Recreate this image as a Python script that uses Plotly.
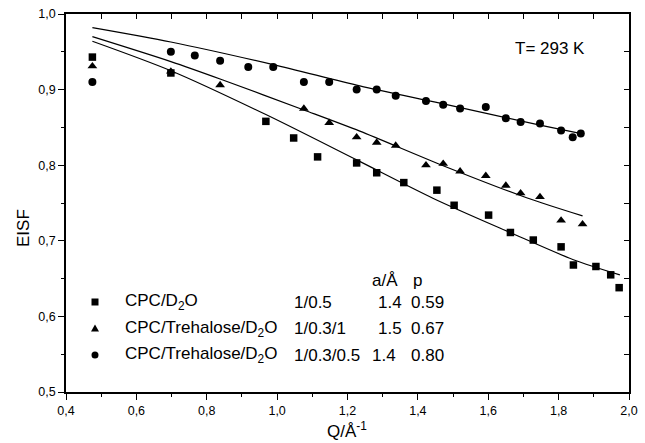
import plotly.graph_objects as go

# Measured EISF values
q_cpc = [0.475, 0.698, 0.968, 1.047, 1.115, 1.226, 1.283, 1.360, 1.454, 1.503,
         1.601, 1.663, 1.728, 1.807, 1.842, 1.906, 1.948, 1.972]
eisf_cpc = [0.943, 0.922, 0.858, 0.836, 0.811, 0.803, 0.790, 0.777, 0.767, 0.747,
            0.734, 0.711, 0.701, 0.692, 0.668, 0.666, 0.655, 0.638]

q_tre1 = [0.475, 0.698, 0.838, 1.076, 1.148, 1.226, 1.283, 1.337, 1.423, 1.472,
          1.520, 1.593, 1.650, 1.692, 1.747, 1.807, 1.868]
eisf_tre1 = [0.931, 0.924, 0.906, 0.875, 0.856, 0.837, 0.830, 0.826, 0.800, 0.802,
             0.792, 0.786, 0.773, 0.763, 0.758, 0.727, 0.722]

q_tre05 = [0.475, 0.698, 0.766, 0.838, 0.918, 0.989, 1.076, 1.148, 1.226, 1.283,
           1.337, 1.423, 1.472, 1.520, 1.593, 1.650, 1.692, 1.747, 1.807, 1.840, 1.863]
eisf_tre05 = [0.910, 0.950, 0.945, 0.938, 0.930, 0.930, 0.910, 0.910, 0.900, 0.900,
              0.892, 0.885, 0.880, 0.875, 0.877, 0.862, 0.857, 0.855, 0.846, 0.837, 0.842]

# Model fit curves
fit_q_cpc = [0.475, 0.698, 0.968, 1.226, 1.444, 1.662, 1.842, 1.974]
fit_cpc = [0.964, 0.925, 0.867, 0.807, 0.756, 0.711, 0.675, 0.655]

fit_q_tre1 = [0.475, 0.698, 0.838, 1.076, 1.235, 1.463, 1.709, 1.868]
fit_tre1 = [0.970, 0.937, 0.914, 0.873, 0.845, 0.801, 0.757, 0.733]

fit_q_tre05 = [0.475, 0.698, 0.989, 1.235, 1.463, 1.747, 1.861]
fit_tre05 = [0.982, 0.963, 0.933, 0.905, 0.882, 0.853, 0.842]

# Legend table
legend_names = ["CPC/D<sub>2</sub>O", "CPC/Trehalose/D<sub>2</sub>O", "CPC/Trehalose/D<sub>2</sub>O"]
legend_ratio = ["1/0.5", "1/0.3/1", "1/0.3/0.5"]
legend_a = ["1.4", "1.5", "1.4"]
legend_p = ["0.59", "0.67", "0.80"]

W, H = 645, 443
ML, MR, MT, MB = 66, 16, 14, 51
PW, PH = W - ML - MR, H - MT - MB


def px(x):
    return (x - ML) / PW


def py(y):
    return (H - MB - y) / PH


FONT = "Liberation Sans, Arial, sans-serif"
fig = go.Figure()

for q, e in [(fit_q_cpc, fit_cpc), (fit_q_tre1, fit_tre1), (fit_q_tre05, fit_tre05)]:
    fig.add_trace(go.Scatter(x=q, y=e, mode="lines",
                             line=dict(color="black", width=1.2, shape="spline", smoothing=0.8),
                             hoverinfo="skip"))

fig.add_trace(go.Scatter(x=q_cpc, y=eisf_cpc, mode="markers",
                         marker=dict(symbol="square", size=7.5, color="black")))
fig.add_trace(go.Scatter(x=q_tre1, y=eisf_tre1, mode="markers",
                         marker=dict(symbol="triangle-up", size=8.5, color="black")))
fig.add_trace(go.Scatter(x=q_tre05, y=eisf_tre05, mode="markers",
                         marker=dict(symbol="circle", size=8, color="black")))
# placeholder trace so the mirrored frame axes are drawn
fig.add_trace(go.Scatter(x=[], y=[], xaxis="x2", yaxis="y2"))

ann = []
ann.append(dict(text="T= 293 K", x=px(513), y=py(49), xanchor="left", yanchor="middle",
                font=dict(size=17)))
ann.append(dict(text="a/Å", x=px(370), y=py(280), xanchor="left", yanchor="middle",
                font=dict(size=17)))
ann.append(dict(text="p", x=px(411), y=py(280), xanchor="left", yanchor="middle",
                font=dict(size=17)))
row_y = [302, 328.5, 355]
a_x = [376, 376, 370]
for i in range(3):
    ann.append(dict(text=legend_names[i], x=px(123), y=py(row_y[i]), xanchor="left",
                    yanchor="middle", font=dict(size=17)))
    ann.append(dict(text=legend_ratio[i], x=px(292), y=py(row_y[i]), xanchor="left",
                    yanchor="middle", font=dict(size=17)))
    ann.append(dict(text=legend_a[i], x=px(a_x[i]), y=py(row_y[i]), xanchor="left",
                    yanchor="middle", font=dict(size=17)))
    ann.append(dict(text=legend_p[i], x=px(409), y=py(row_y[i]), xanchor="left",
                    yanchor="middle", font=dict(size=17)))
ann.append(dict(text="EISF", x=px(23), y=py(228), textangle=-90, xanchor="center",
                yanchor="middle", font=dict(size=17)))
ann.append(dict(text="Q/Å<sup>-1</sup>", x=px(347), y=py(430), xanchor="center",
                yanchor="middle", font=dict(size=17)))
for a in ann:
    a.update(xref="paper", yref="paper", showarrow=False)

# Legend keys
mx = px(95)
shapes = [
    dict(type="rect", xref="paper", yref="paper", xsizemode="pixel", ysizemode="pixel",
         xanchor=mx, yanchor=py(row_y[0]), x0=-3.5, x1=3.5, y0=-3.5, y1=3.5,
         fillcolor="black", line=dict(width=0)),
    dict(type="path", xref="paper", yref="paper", xsizemode="pixel", ysizemode="pixel",
         xanchor=mx, yanchor=py(row_y[1]), path="M -4,-3 L 4,-3 L 0,4 Z",
         fillcolor="black", line=dict(width=0)),
    dict(type="circle", xref="paper", yref="paper", xsizemode="pixel", ysizemode="pixel",
         xanchor=mx, yanchor=py(row_y[2]), x0=-3.5, x1=3.5, y0=-3.5, y1=3.5,
         fillcolor="black", line=dict(width=0)),
]

axis_common = dict(showgrid=False, zeroline=False, showline=True, linecolor="black",
                   linewidth=1.5, tickcolor="black", tickwidth=1)

fig.update_layout(
    width=W, height=H,
    margin=dict(l=ML, r=MR, t=MT, b=MB, autoexpand=False),
    paper_bgcolor="white", plot_bgcolor="white",
    separators=",.",
    showlegend=False,
    font=dict(family=FONT, color="black", size=12.5),
    annotations=ann,
    shapes=shapes,
    xaxis=dict(range=[0.4, 2.0], tickmode="linear", tick0=0.4, dtick=0.2, tickformat=".1f",
               ticks="outside", ticklen=6,
               minor=dict(ticks="outside", ticklen=3, dtick=0.1, tick0=0.4, tickcolor="black"),
               **axis_common),
    yaxis=dict(range=[0.5, 1.0], tickmode="linear", tick0=0.5, dtick=0.1, tickformat=".1f",
               ticks="outside", ticklen=6,
               minor=dict(ticks="outside", ticklen=3, dtick=0.05, tick0=0.5, tickcolor="black"),
               **axis_common),
    xaxis2=dict(range=[0.4, 2.0], overlaying="x", side="top", anchor="y", tickmode="linear",
                tick0=0.4, dtick=0.1, ticks="inside", ticklen=5, showticklabels=False,
                **axis_common),
    yaxis2=dict(range=[0.5, 1.0], overlaying="y", side="right", anchor="x", tickmode="linear",
                tick0=0.5, dtick=0.05, ticks="inside", ticklen=5, showticklabels=False,
                **axis_common),
)

fig.write_html("out.html")
